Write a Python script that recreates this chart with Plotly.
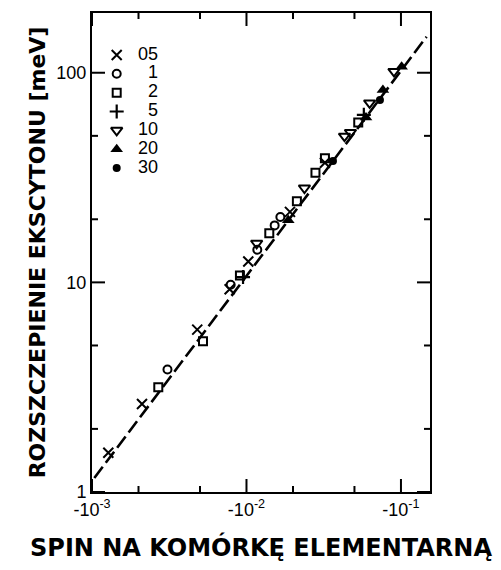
import math
import plotly.graph_objects as go

# ---- data (spin per unit cell magnitude, exciton splitting meV) ----
x05 = [1.275e-3, 2.107e-3, 4.80e-3, 7.78e-3, 1.027e-2, 1.912e-2, 3.22e-2]
y05 = [1.54, 2.63, 5.95, 9.27, 12.58, 21.7, 37.2]

x1 = [3.08e-3, 7.90e-3, 1.175e-2, 1.522e-2, 1.657e-2]
y1 = [3.84, 9.75, 14.3, 18.7, 20.5]

x2 = [2.686e-3, 5.23e-3, 9.07e-3, 1.405e-2, 2.12e-2, 2.796e-2, 3.22e-2, 5.29e-2]
y2 = [3.16, 5.24, 10.79, 17.15, 24.4, 33.3, 39.1, 57.9]

x5 = [9.5e-3, 5.75e-2]
y5 = [10.6, 63.0]

x10 = [1.164e-2, 2.373e-2, 4.31e-2, 4.71e-2, 6.27e-2, 9.01e-2]
y10 = [15.37, 28.2, 49.8, 51.9, 71.8, 101.4]

x20 = [1.865e-2, 5.94e-2, 7.64e-2, 0.101]
y20 = [19.8, 61.2, 82.8, 106.9]

x30 = [3.63e-2, 7.31e-2]
y30 = [37.9, 74.2]

fit_x = [1.035e-3, 0.1466]
fit_y = [1.166, 148.6]

legend_labels = ["05", "1", "2", "5", "10", "20", "30"]
x_tickvals = [1e-3, 1e-2, 1e-1]
x_ticktext = ["-10<sup>-3</sup>", "-10<sup>-2</sup>", "-10<sup>-1</sup>"]
x_minor = [2e-3, 5e-3, 2e-2, 5e-2]
y_tickvals = [1, 10, 100]
y_ticktext = ["1", "10", "100"]
y_minor = [2, 5, 20, 50]

x_title = "SPIN NA KOMÓRKĘ ELEMENTARNĄ"
y_title = "ROZSZCZEPIENIE EKSCYTONU [meV]"

# ---- styles ----
K = "black"
styles = [
    dict(symbol="x-thin-open", size=10, line=dict(color=K, width=2), color=K),
    dict(symbol="circle-open", size=8, line=dict(color=K, width=2), color=K),
    dict(symbol="square-open", size=8, line=dict(color=K, width=2), color=K),
    dict(symbol="cross-thin-open", size=10, line=dict(color=K, width=2.2), color=K),
    dict(symbol="triangle-down-open", size=10, line=dict(color=K, width=2), color=K),
    dict(symbol="triangle-up", size=11, line=dict(color=K, width=0), color=K),
    dict(symbol="circle", size=8, line=dict(color=K, width=0), color=K),
]
series = [(x05, y05), (x1, y1), (x2, y2), (x5, y5), (x10, y10), (x20, y20), (x30, y30)]

FONT = "Liberation Sans, Arial, sans-serif"
TFONT = "DejaVu Sans, Liberation Sans, sans-serif"
L, R, T, B = 92, 430, 13, 492
W, H = 501, 570
pw, ph = R - L, B - T
XR = [-3.0, -0.812]
YR = [0, 2.285]
MAJ, MIN = 13, 6

fig = go.Figure()
fig.add_trace(go.Scatter(x=fit_x, y=fit_y, mode="lines",
                         line=dict(color=K, width=2.6, dash="14px,5px"),
                         showlegend=False, hoverinfo="skip"))
for (xs, ys), st, lab in zip(series, styles, legend_labels):
    fig.add_trace(go.Scatter(x=xs, y=ys, mode="markers", marker=st,
                             name=lab, showlegend=False))

# ---- inward tick marks on all four sides, in axis-domain units ----
def fx(v):
    return (math.log10(v) - XR[0]) / (XR[1] - XR[0])

def fy(v):
    return (math.log10(v) - YR[0]) / (YR[1] - YR[0])

tick_line = dict(color=K, width=2)
for vals, ln in ((x_tickvals, MAJ), (x_minor, MIN)):
    for v in vals:
        f = fx(v)
        fig.add_shape(type="line", xref="x domain", yref="y domain", layer="above",
                      x0=f, x1=f, y0=0, y1=ln / ph, line=tick_line)
        fig.add_shape(type="line", xref="x domain", yref="y domain", layer="above",
                      x0=f, x1=f, y0=1, y1=1 - ln / ph, line=tick_line)
for vals, ln in ((y_tickvals, MAJ), (y_minor, MIN)):
    for v in vals:
        g = fy(v)
        fig.add_shape(type="line", xref="x domain", yref="y domain", layer="above",
                      y0=g, y1=g, x0=0, x1=ln / pw, line=tick_line)
        fig.add_shape(type="line", xref="x domain", yref="y domain", layer="above",
                      y0=g, y1=g, x0=1, x1=1 - ln / pw, line=tick_line)

# ---- custom legend drawn on an auxiliary axis pair ----
rows = list(range(len(legend_labels)))
for r, st in zip(rows, styles):
    fig.add_trace(go.Scatter(x=[0], y=[r], mode="markers", marker=st,
                             xaxis="x2", yaxis="y2", showlegend=False,
                             cliponaxis=False, hoverinfo="skip"))
fig.add_trace(go.Scatter(x=[1] * len(rows), y=rows, mode="text",
                         text=legend_labels, textposition="middle left",
                         textfont=dict(family="Liberation Sans, Arial", size=18, color=K),
                         xaxis="x2", yaxis="y2", showlegend=False,
                         cliponaxis=False, hoverinfo="skip"))

def px_x(p):
    return (p - L) / pw

def px_y(p):
    return (B - p) / ph

fig.update_layout(
    width=W, height=H,
    margin=dict(l=L, r=W - R, t=T, b=H - B),
    paper_bgcolor="white", plot_bgcolor="white",
    font=dict(family=FONT, color=K),
    xaxis=dict(type="log", range=XR,
               tickmode="array", tickvals=x_tickvals, ticktext=x_ticktext,
               ticks="", showline=True, linewidth=2, linecolor=K, mirror=True,
               showgrid=False, zeroline=False,
               tickfont=dict(family=FONT, size=18, color=K),
               title=dict(text=x_title, standoff=21,
                          font=dict(family=TFONT, size=24, color=K, weight="bold"))),
    yaxis=dict(type="log", range=YR,
               tickmode="array", tickvals=y_tickvals, ticktext=y_ticktext,
               ticks="", showline=True, linewidth=2, linecolor=K, mirror=True,
               showgrid=False, zeroline=False,
               tickfont=dict(family=FONT, size=18, color=K),
               title=dict(text=y_title, standoff=5,
                          font=dict(family=TFONT, size=22, color=K, weight="bold"))),
    xaxis2=dict(domain=[px_x(116.7), px_x(158)], range=[0, 1], anchor="y2",
                visible=False, fixedrange=True),
    yaxis2=dict(domain=[px_y(168), px_y(55)], range=[len(rows) - 1, 0], anchor="x2",
                visible=False, fixedrange=True),
    showlegend=False,
)

fig.write_html("out.html")
